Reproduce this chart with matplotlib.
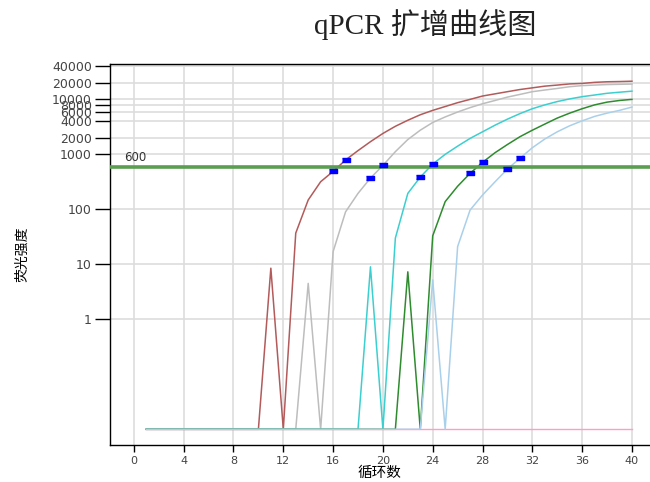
import matplotlib
matplotlib.use("Agg")
import matplotlib.pyplot as plt
import numpy as np

# data (fluorescence per cycle, 0.01 = baseline)
cycles = list(range(1, 41))

red = [0.01] * 10 + [8.5, 0.01, 37, 148, 318, 490, 790, 1170, 1700, 2400,
       3240, 4170, 5250, 6310, 7410, 8710, 10000, 11500, 12600, 13800,
       15100, 16200, 17400, 18200, 19100, 19500, 20400, 20900, 21100, 21400]
gray = [0.01] * 13 + [4.5, 0.01, 17, 90, 195, 370, 630, 1120, 1860, 2750,
        3800, 4790, 5890, 7080, 8320, 9550, 11000, 12300, 13800, 14800,
        15800, 17000, 17800, 18200, 18600, 18800, 19000]
cyan = [0.01] * 18 + [9, 0.01, 30, 195, 386, 666, 1000, 1410, 1950, 2570,
        3390, 4370, 5500, 6760, 7940, 9120, 10200, 11200, 12000, 12900,
        13500, 14100]
green = [0.01] * 21 + [7.3, 0.01, 33, 138, 263, 451, 716, 1070, 1510, 2090,
         2750, 3550, 4570, 5620, 6760, 7940, 8910, 9550, 10000]
lightblue = [0.01] * 23 + [5.2, 0.01, 21, 97, 182, 316, 540, 846, 1320,
             1900, 2570, 3310, 4070, 4900, 5620, 6310, 7240]
negative = [0.01] * 40

# cycles marked with blue squares around the threshold
marks = {"red": [16, 17], "gray": [19, 20], "cyan": [23, 24],
         "green": [27, 28], "lightblue": [30, 31]}

threshold = 600
x_ticks = list(range(0, 41, 4))
y_ticks = [1, 10, 100, 1000, 2000, 4000, 6000, 8000, 10000, 20000, 40000]

fig = plt.figure(figsize=(6.5, 4.82), dpi=100, facecolor="white")
ax = fig.add_axes([0.169, 0.077, 0.831, 0.790])

ax.plot(cycles, negative, color="#ff9ec4", lw=1.0)
series = [("red", red, "#b35a5a"), ("gray", gray, "#bdbdbd"),
          ("cyan", cyan, "#3ccfcf"), ("green", green, "#2e8b2e"),
          ("lightblue", lightblue, "#a9d0ea")]
for name, vals, col in series:
    ax.plot(cycles, vals, color=col, lw=1.1)

rect = [(-1.6, -1), (1.6, -1), (1.6, 1), (-1.6, 1)]
for name, vals, col in series:
    mx = marks[name]
    my = [vals[c - 1] for c in mx]
    ax.plot(mx, my, ls="none", marker=rect, markersize=5.5,
            color="#0000ff", zorder=5)

ax.axhline(threshold, color="#5a9e50", lw=2.6, zorder=4)
ax.text(-0.8, 860, "600", fontsize=8.5, color="#333333", va="center")

ax.set_yscale("log")
ax.set_xlim(-1.93, 41.45)
ax.set_ylim(0.0052, 43800)
ax.set_xticks(x_ticks)
ax.set_xticklabels([str(t) for t in x_ticks], fontsize=8, color="#444444")
ax.set_yticks(y_ticks)
ax.set_yticklabels([str(t) for t in y_ticks], fontsize=9, color="#444444")
ax.minorticks_off()
ax.tick_params(axis="y", length=11, width=1.0, pad=2)
ax.tick_params(axis="x", length=5, width=1.0, pad=3)
ax.grid(True, color="#dddddd", lw=1.2)
ax.set_axisbelow(True)
ax.spines["right"].set_visible(False)
for s in ["left", "bottom", "top"]:
    ax.spines[s].set_linewidth(1.0)

cjk = ["Noto Sans CJK SC", "DejaVu Sans"]
ax.set_xlabel("循环数", family=cjk, fontsize=10.5, labelpad=0)
ax.set_ylabel("荧光强度", family=cjk, fontsize=10, labelpad=16)
fig.text(0.654, 0.950, "qPCR 扩增曲线图", family=["Liberation Serif", "Noto Sans CJK SC"],
         fontsize=21, ha="center", va="center", color="#222222")

fig.savefig("out.png", dpi=100)
